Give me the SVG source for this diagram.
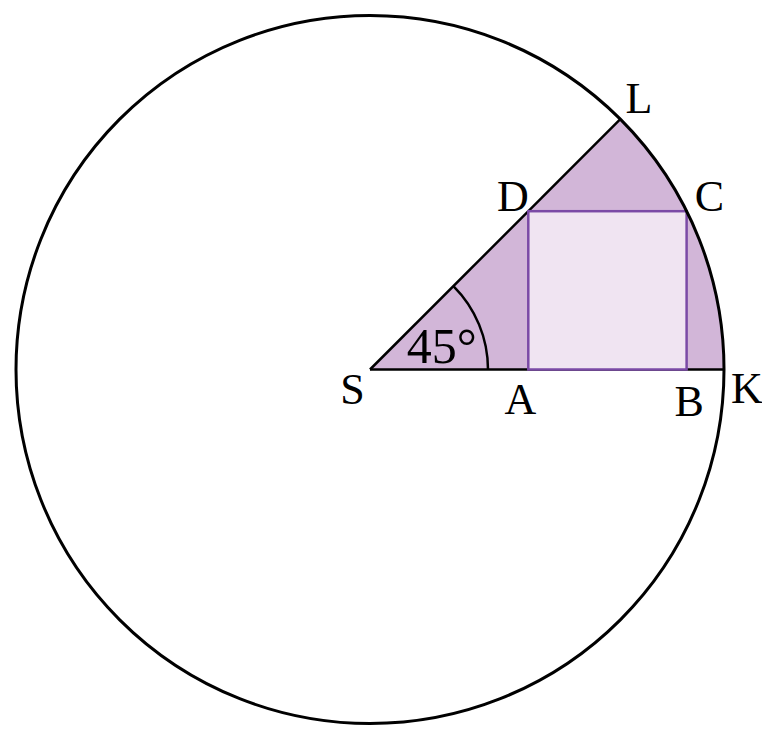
<svg xmlns="http://www.w3.org/2000/svg" width="762" height="741" viewBox="0 0 762 741">
<style>
.lbl{font-family:"Liberation Serif","DejaVu Serif",serif;font-size:44px;fill:#000;text-anchor:middle}
.blk{fill:none;stroke:#000;stroke-width:2.5}
</style>
<rect width="762" height="741" fill="#fff"/>
<g id="sector">
<path d="M370,369.5 L620.3,119.2 A354,354 0 0,1 724,369.5 Z" fill="#D2B6D8"/>
</g>
<g id="connectors">
<line class="blk" x1="370" y1="369.5" x2="724" y2="369.5"/>
<line class="blk" x1="370" y1="369.5" x2="620.3" y2="119.2"/>
<path class="blk" stroke-width="2" d="M488,369.5 A118,118 0 0,0 453.4,286.1"/>
</g>
<g id="square">
<rect x="528.3" y="211.2" width="158.3" height="158.3" fill="#F0E4F2" stroke="#7B4AA6" stroke-width="2.5"/>
</g>
<g id="circle">
<circle cx="370" cy="369.5" r="354" fill="none" stroke="#000" stroke-width="3"/>
</g>
<g id="labels">
<text class="lbl" x="639" y="113">L</text>
<text class="lbl" x="513" y="211">D</text>
<text class="lbl" x="709.5" y="211">C</text>
<text class="lbl" x="352.5" y="404">S</text>
<text class="lbl" x="520.3" y="414">A</text>
<text class="lbl" x="689.2" y="416">B</text>
<text class="lbl" x="747" y="403">K</text>
<text class="lbl" x="441.8" y="363" style="font-size:50px">45°</text>
</g>
</svg>
